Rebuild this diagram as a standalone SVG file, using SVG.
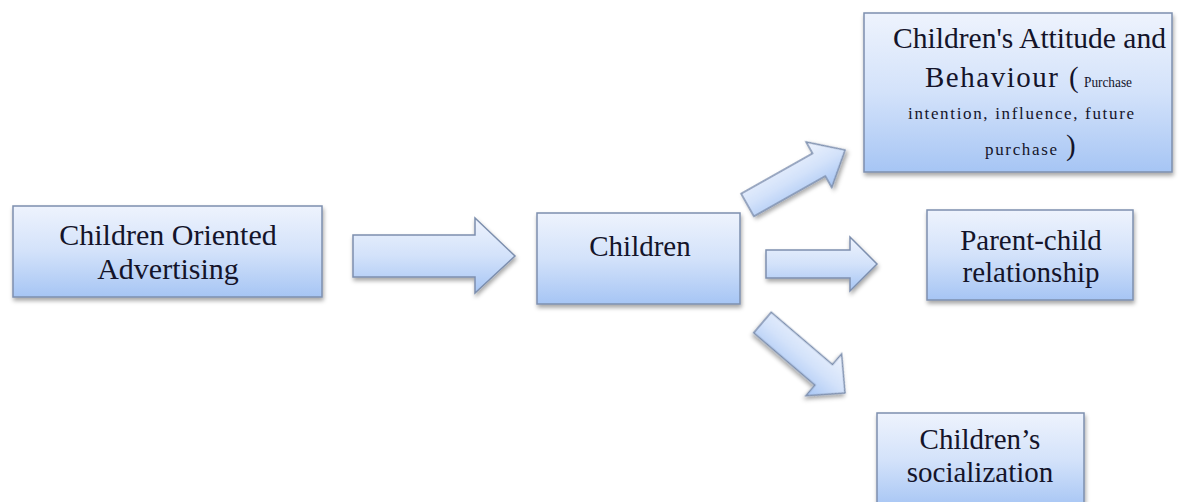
<svg xmlns="http://www.w3.org/2000/svg" width="1182" height="502" viewBox="0 0 1182 502">
<defs>
<linearGradient id="fillGrad" x1="0" y1="0" x2="0" y2="1">
<stop offset="0" stop-color="#eef3fd"/>
<stop offset="0.5" stop-color="#d3e2fa"/>
<stop offset="1" stop-color="#a6c5f4"/>
</linearGradient>
<filter id="shadow" x="-10%" y="-10%" width="125%" height="135%">
<feDropShadow dx="1" dy="3" stdDeviation="2" flood-color="#000" flood-opacity="0.35"/>
</filter>
</defs>
<style>
.shape { fill: url(#fillGrad); stroke: #7d8fae; stroke-width: 1.5; filter: url(#shadow); }
text { font-family: "Liberation Serif", "Times New Roman", serif; fill: #14142a; }
.big { font-size: 29px; }
.small { font-size: 17px; }
.mid { text-anchor: middle; }
</style>
<rect width="1182" height="502" fill="#ffffff"/>

<g id="connectors">
<path class="shape" d="M353,235 H475 V218 L515,256 L475,293 V277 H353 Z"/>
<path class="shape" d="M766,250 H850 V237 L877,264 L850,291 V278 H766 Z"/>
<path class="shape" transform="translate(747.5,205) rotate(-29.4)" d="M0,-13 H82 V-26 L112,0 L82,26 V13 H0 Z"/>
<path class="shape" transform="translate(762.5,322.5) rotate(40.5)" d="M0,-13.5 H80.5 V-27.5 L108.5,0 L80.5,27.5 V13.5 H0 Z"/>
</g>

<g id="node-advertising">
<rect class="shape" x="13" y="206" width="309" height="91"/>
<text class="big mid" x="168" y="245" style="font-size:30px">Children Oriented</text>
<text class="big mid" x="168" y="279" style="font-size:30px">Advertising</text>
</g>

<g id="node-children">
<rect class="shape" x="537" y="213" width="203" height="91"/>
<text class="big mid" x="640" y="256">Children</text>
</g>

<g id="node-attitude">
<rect class="shape" x="864" y="13" width="308" height="159"/>
<text class="big" x="893" y="48" textLength="273" lengthAdjust="spacingAndGlyphs">Children's Attitude and</text>
<text class="big" x="925" y="87" textLength="133" lengthAdjust="spacing">Behaviour</text>
<text class="big" x="1069" y="87">(</text>
<text class="small" x="1084" y="87" textLength="48" lengthAdjust="spacingAndGlyphs" style="font-size:15px">Purchase</text>
<text class="small" x="908" y="119" textLength="226" lengthAdjust="spacing">intention, influence, future</text>
<text class="small" x="985" y="155" textLength="72" lengthAdjust="spacing">purchase</text>
<text class="big" x="1066" y="155">)</text>
</g>

<g id="node-parent-child">
<rect class="shape" x="927" y="210" width="206" height="90"/>
<text class="big mid" x="1031" y="250">Parent-child</text>
<text class="big mid" x="1031" y="282">relationship</text>
</g>

<g id="node-socialization">
<rect class="shape" x="877" y="413" width="207" height="95"/>
<text class="big mid" x="980" y="449">Children’s</text>
<text class="big mid" x="980" y="482">socialization</text>
</g>
</svg>
